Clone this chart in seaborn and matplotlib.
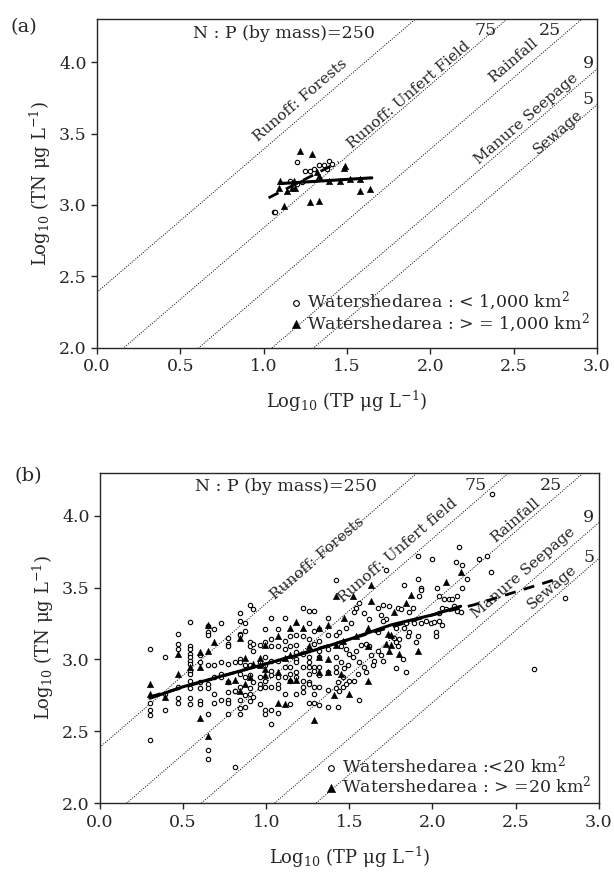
import matplotlib
matplotlib.use("Agg")
import matplotlib.pyplot as plt
import numpy as np
import seaborn as sns

sns.set_style("ticks")
plt.rcParams["font.family"] = ["DejaVu Serif"]
plt.rcParams["mathtext.fontset"] = "dejavuserif"

# ── N:P reference lines ──────────────────────────────────────────────────────
np_ratios = [250, 75, 25, 9, 5]
np_intercepts = [2.39, 1.84, 1.39, 0.95, 0.70]
src_labels_a = ["Runoff: Forests", "Runoff: Unfert Field", "Rainfall",
                "Manure Seepage", "Sewage"]
src_labels_b = ["Runoff: Forests", "Runoff: Unfert field", "Rainfall",
                "Manure Seepage", "Sewage"]

# ── panel (a) data ───────────────────────────────────────────────────────────
a_small_tp = [1.20, 1.06, 1.07, 1.25, 1.33, 1.36, 1.39, 1.41, 1.38, 1.28,
              1.30, 1.16, 1.20, 1.23]
a_small_tn = [3.30, 2.95, 2.95, 3.24, 3.28, 3.28, 3.31, 3.29, 3.25, 3.24,
              3.25, 3.17, 3.15, 3.16]
a_large_tp = [1.22, 1.29, 1.09, 1.12, 1.28, 1.33, 1.58, 1.64, 1.48, 1.49,
              1.10, 1.18, 1.19, 1.17, 1.33, 1.32, 1.46, 1.58, 1.52, 1.39, 1.14]
a_large_tn = [3.38, 3.36, 3.12, 2.99, 3.02, 3.03, 3.10, 3.11, 3.26, 3.27,
              3.17, 3.17, 3.12, 3.12, 3.20, 3.23, 3.17, 3.18, 3.18, 3.17, 3.10]
a_fit_large_tp = [1.10, 1.65]
a_fit_large_tn = [3.15, 3.19]
a_fit_small_tp = [1.03, 1.45]
a_fit_small_tn = [3.05, 3.30]

# ── panel (b) data ───────────────────────────────────────────────────────────
b_small_tp = (
    [0.30] * 5 + [0.39] * 3 + [0.47] * 6 + [0.54] * 13 + [0.60] * 6
    + [0.65] * 9 + [0.685] * 5 + [0.73] * 5 + [0.77] * 9 + [0.81] * 4
    + [0.84] * 11 + [0.87] * 6 + [0.90] * 8 + [0.92] * 5 + [0.96] * 6
    + [0.99] * 8 + [1.03] * 9 + [1.07] * 7 + [1.11] * 6 + [1.14] * 6
    + [1.18] * 8 + [1.22] * 7 + [1.26] * 10 + [1.29] * 8 + [1.32] * 8
    + [1.37] * 6 + [1.42] * 6
    + [1.56, 1.54, 1.53, 1.72, 1.83, 1.91, 1.93, 1.93, 1.92, 2.00, 1.91, 2.16,
       2.14, 2.18, 2.21, 2.18, 2.15, 2.03, 2.04, 2.07, 2.10, 2.12, 2.13, 2.15,
       2.17, 2.28, 2.33, 2.35, 2.36, 2.80, 2.61,
       1.79, 1.81, 1.88, 1.86, 1.74, 1.70, 1.67, 1.69, 1.72, 1.62, 1.59, 1.51,
       1.48, 1.44, 1.60, 1.62, 1.67, 1.70, 1.77, 1.80, 1.78, 1.83, 1.84, 1.86,
       1.89, 1.91, 1.93, 1.96, 1.99, 2.01, 2.04, 2.04, 2.06, 2.08, 2.02, 2.02,
       2.06, 1.78, 1.79, 1.82, 1.78, 1.84, 1.90, 1.85, 1.67, 1.69, 1.70, 1.63,
       1.65, 1.64, 1.59, 1.60, 1.55, 1.53, 1.56, 1.44, 1.46, 1.50, 1.46, 1.48,
       1.43, 1.43, 1.45, 1.48, 1.50, 1.52, 1.54, 1.57, 1.45, 1.49, 1.47, 1.56]
)
b_small_tn = [
    3.07, 2.70, 2.65, 2.61, 2.44,
    3.02, 2.76, 2.65,
    3.18, 3.07, 2.81, 2.73, 2.70, 3.11,
    3.26, 3.09, 3.07, 3.04, 3.02, 2.99, 2.97, 2.92, 2.90, 2.85, 2.80, 2.73, 2.69,
    3.03, 2.98, 2.84, 2.80, 2.71, 2.69,
    3.23, 3.19, 3.17, 2.96, 2.83, 2.80, 2.62, 2.37, 2.31,
    3.21, 2.96, 2.88, 2.76, 2.70,
    3.25, 2.98, 2.90, 2.88, 2.72,
    3.15, 3.11, 3.09, 2.97, 2.84, 2.77, 2.72, 2.70, 2.62,
    2.98, 2.78, 2.78, 2.25,
    3.32, 3.27, 3.18, 3.17, 3.00, 2.98, 2.90, 2.81, 2.72, 2.66, 2.62,
    3.25, 3.20, 2.96, 2.88, 2.75, 2.67,
    3.38, 3.12, 3.09, 2.96, 2.89, 2.80, 2.76, 2.71,
    3.35, 3.11, 3.06, 2.84, 2.74,
    3.10, 2.98, 2.88, 2.83, 2.80, 2.69,
    3.21, 3.12, 3.02, 2.96, 2.85, 2.81, 2.65, 2.62,
    3.29, 3.14, 3.09, 2.99, 2.92, 2.89, 2.81, 2.65, 2.55,
    3.21, 3.09, 2.99, 2.88, 2.83, 2.80, 2.63,
    3.29, 3.13, 3.07, 2.95, 2.88, 2.76,
    3.16, 3.09, 2.95, 2.90, 2.85, 2.69,
    3.17, 3.10, 3.05, 3.00, 2.98, 2.91, 2.88, 2.76,
    3.36, 3.16, 3.04, 2.95, 2.85, 2.81, 2.77,
    3.34, 3.25, 3.14, 3.02, 2.98, 2.95, 2.90, 2.84, 2.83, 2.70,
    3.34, 3.20, 3.11, 2.95, 2.92, 2.81, 2.76, 2.70,
    3.21, 3.13, 3.06, 3.02, 2.95, 2.89, 2.81, 2.68,
    3.29, 3.17, 3.07, 2.91, 2.79, 2.67,
    3.55, 3.17, 3.02, 2.95, 2.91, 2.80,
    3.39, 3.36, 3.33, 3.62, 3.52, 3.56, 3.50, 3.48, 3.44, 3.70, 3.72, 3.78,
    3.68, 3.66, 3.56, 3.50, 3.44, 3.50, 3.44, 3.42, 3.42, 3.42, 3.37, 3.34,
    3.33, 3.70, 3.72, 3.61, 4.15, 3.43, 2.93,
    3.36, 3.35, 3.36, 3.33, 3.37, 3.38, 3.36, 3.31, 3.28, 3.28, 3.32, 3.25,
    3.22, 3.19, 3.11, 3.09, 3.19, 3.27, 3.15, 3.14, 3.22, 3.22, 3.25, 3.19,
    3.25, 3.16, 3.25, 3.27, 3.25, 3.26, 3.32, 3.27, 3.36, 3.35, 3.19, 3.16,
    3.24, 3.12, 3.09, 3.00, 2.94, 2.91, 3.12, 3.16, 3.06, 3.03, 2.99, 3.03,
    2.99, 2.96, 2.95, 2.91, 2.90, 2.85, 2.72, 2.78, 2.81, 2.85, 2.88, 2.83,
    2.84, 2.67, 3.09, 3.07, 3.04, 3.02, 3.06, 3.10, 2.98, 2.96, 2.94, 2.98,
]
b_large_tp = [
    0.30, 0.30, 0.39, 0.47, 0.47, 0.54, 0.60, 0.60, 0.60, 0.65, 0.65, 0.65,
    0.685, 0.77, 0.81, 0.84, 0.84, 0.87, 0.87, 0.90, 0.92, 0.96, 0.96,
    0.99, 0.99, 0.99, 1.07, 1.07, 1.07, 1.11, 1.11, 1.14, 1.14, 1.14,
    1.18, 1.18, 1.22, 1.26, 1.29, 1.32, 1.32, 1.32, 1.37, 1.37, 1.37,
    1.42, 1.42,
    1.52, 1.63, 2.17, 2.08, 1.84, 1.77, 1.63, 1.61, 1.47, 1.54, 1.73, 1.75,
    1.72, 1.75, 1.80, 1.91, 1.74, 1.61, 1.61, 1.50, 1.41, 1.46, 1.45, 1.87,
]
b_large_tn = [
    2.83, 2.76, 2.74, 3.04, 2.90, 2.95, 3.05, 2.95, 2.59, 3.24, 3.06, 2.47,
    3.12, 2.85, 2.86, 3.15, 2.78, 3.01, 2.83, 2.88, 2.97, 3.01, 2.96,
    3.10, 2.93, 2.89, 3.16, 2.91, 2.70, 3.01, 2.69, 3.22, 3.03, 2.86,
    3.26, 2.86, 3.22, 3.09, 2.58, 3.22, 3.02, 2.91, 3.24, 3.00, 2.91,
    3.44, 3.10,
    3.44, 3.52, 3.61, 3.54, 3.39, 3.33, 3.41, 3.22, 3.29, 3.16, 3.18, 3.17,
    3.11, 3.10, 3.04, 3.06, 3.06, 3.09, 2.85, 2.76, 2.75, 3.13, 2.90, 3.45,
]
b_fit_large_tp = [0.30, 0.50, 0.75, 1.00, 1.25, 1.50, 1.75, 2.00, 2.17]
b_fit_large_tn = [2.73, 2.81, 2.89, 2.97, 3.05, 3.14, 3.24, 3.31, 3.37]
b_fit_small_tp = [0.30, 1.00, 1.50, 2.00, 2.25, 2.50, 2.75]
b_fit_small_tn = [2.74, 2.97, 3.14, 3.31, 3.38, 3.47, 3.56]

# ── text positions (data coords) ─────────────────────────────────────────────
lab_pos_a = [(1.22, 3.73), (1.87, 3.77), (2.50, 4.01), (2.58, 3.60), (2.77, 3.51)]
lab_pos_b = [(1.31, 3.70), (1.79, 3.76), (2.50, 3.97), (2.55, 3.60), (2.72, 3.50)]
ratio_pos_a = [(2.33, 4.22), (2.72, 4.22), (2.95, 3.99), (2.95, 3.74)]
ratio_pos_b = [(2.26, 4.21), (2.71, 4.21), (2.94, 3.99), (2.94, 3.71)]
legend_a = ["Watershedarea : < 1,000 km$^2$", "Watershedarea : > = 1,000 km$^2$"]
legend_b = ["Watershedarea :<20 km$^2$", "Watershedarea : > =20 km$^2$"]
legend_anchor = {"a": (0.985, 0.04), "b": (0.985, 0.02)}

ANGLE = 40.6
FS = 12.5


def draw_panel(ax, small_tp, small_tn, large_tp, large_tn,
               fit_l, fit_s, src_labels, lab_pos, ratio_pos, leg_labels, anchor):
    xs = np.array([-0.5, 3.5])
    for icpt in np_intercepts:
        sns.lineplot(x=xs, y=xs + icpt, ax=ax, color="black",
                     linestyle=(0, (1, 1.5)), linewidth=0.7)

    sns.scatterplot(x=small_tp, y=small_tn, ax=ax, marker="o", s=10,
                    facecolor="white", edgecolor="black", linewidth=0.8,
                    label=leg_labels[0], zorder=3)
    sns.scatterplot(x=large_tp, y=large_tn, ax=ax, marker="^", s=22,
                    color="black", edgecolor="black", linewidth=0.3,
                    label=leg_labels[1], zorder=3)

    sns.lineplot(x=fit_s[0], y=fit_s[1], ax=ax, sort=False, estimator=None,
                 color="black", linewidth=2.0, linestyle=(0, (4, 3)), zorder=4)
    sns.lineplot(x=fit_l[0], y=fit_l[1], ax=ax, sort=False, estimator=None,
                 color="black", linewidth=2.2, zorder=5)

    for lab, (x, y) in zip(src_labels, lab_pos):
        ax.text(x, y, lab, rotation=ANGLE, rotation_mode="anchor",
                ha="center", va="center", fontsize=11)
    ax.text(1.12, 4.20, "N : P (by mass)=250", ha="center", va="center",
            fontsize=FS)
    for r, (x, y) in zip(np_ratios[1:], ratio_pos):
        ax.text(x, y, str(r), ha="center", va="center", fontsize=FS)

    ax.set_xlim(0, 3.0)
    ax.set_ylim(2.0, 4.3)
    ax.set_xticks([0.0, 0.5, 1.0, 1.5, 2.0, 2.5, 3.0])
    ax.set_yticks([2.0, 2.5, 3.0, 3.5, 4.0])
    ax.xaxis.set_major_formatter(matplotlib.ticker.FormatStrFormatter("%.1f"))
    ax.yaxis.set_major_formatter(matplotlib.ticker.FormatStrFormatter("%.1f"))
    ax.tick_params(direction="out", length=4, width=1, labelsize=FS)
    for sp in ax.spines.values():
        sp.set_visible(True)
        sp.set_linewidth(1.0)
    ax.set_ylabel("Log$_{10}$ (TN μg L$^{-1}$)", fontsize=13)
    ax.set_xlabel("Log$_{10}$ (TP μg L$^{-1}$)", fontsize=13)

    leg = ax.legend(loc="lower right", bbox_to_anchor=anchor, frameon=False,
                    fontsize=12.5, handletextpad=0.1, handlelength=1.0,
                    labelspacing=-0.1, borderaxespad=0.0, borderpad=0.0,
                    markerscale=1.3)
    return leg


fig = plt.figure(figsize=(6.14, 8.72), dpi=100)
ax_a = fig.add_axes([0.158, 0.601, 0.814, 0.377])
ax_b = fig.add_axes([0.163, 0.079, 0.812, 0.379])

draw_panel(ax_a, a_small_tp, a_small_tn, a_large_tp, a_large_tn,
           (a_fit_large_tp, a_fit_large_tn), (a_fit_small_tp, a_fit_small_tn),
           src_labels_a, lab_pos_a, ratio_pos_a, legend_a, legend_anchor["a"])
draw_panel(ax_b, b_small_tp, b_small_tn, b_large_tp, b_large_tn,
           (b_fit_large_tp, b_fit_large_tn), (b_fit_small_tp, b_fit_small_tn),
           src_labels_b, lab_pos_b, ratio_pos_b, legend_b, legend_anchor["b"])

ax_a.xaxis.labelpad = 10
ax_b.xaxis.labelpad = 10

fig.text(24 / 614, 1 - 27 / 872, "(a)", ha="center", va="center", fontsize=14)
fig.text(28 / 614, 1 - 476 / 872, "(b)", ha="center", va="center", fontsize=14)

fig.savefig("out.png", dpi=100)
